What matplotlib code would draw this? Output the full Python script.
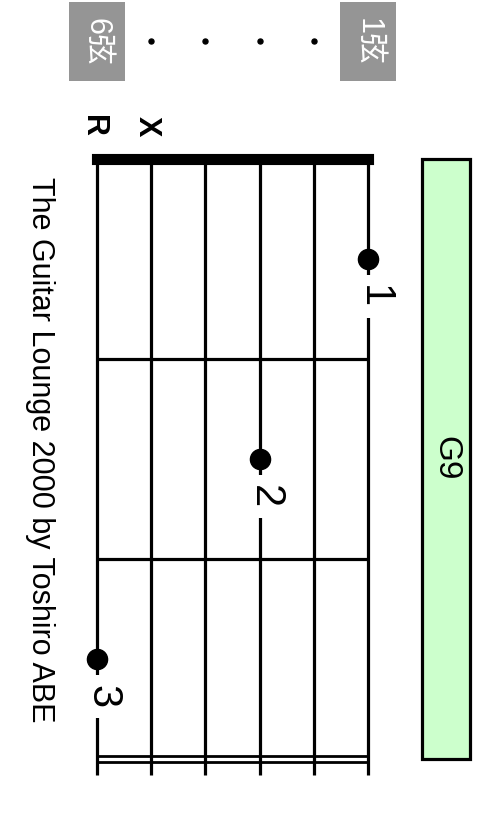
import numpy as np
import matplotlib.pyplot as plt
from matplotlib.patches import Rectangle

plt.rcParams['font.family'] = ['Liberation Sans', 'Noto Sans CJK JP', 'DejaVu Sans']

# chord data
chord_name = "G9"
strings = [6, 5, 4, 3, 2, 1]
n_frets = 3
finger_strings = [1, 3, 6]
finger_frets = [1, 2, 3]
finger_numbers = ["1", "2", "3"]
mark_strings = [6, 5]
mark_labels = ["R", "X"]
edge_strings = [6, 1]
edge_labels = ["6弦", "1弦"]
credit = "The Guitar Lounge 2000 by Toshiro ABE"

fig = plt.figure(figsize=(4.9, 8.4), dpi=100)
ax = fig.add_axes([0, 0, 1, 1])
# diagram is turned on its side: string 6 on the left, nut at the top
ax.set_xlim(7.79, -1.251)
ax.set_ylim(3.4075, -0.7925)
ax.axis("off")

lw = 2.3
for s in strings:
    ax.plot([s, s], [0, 3.08], color="black", lw=lw, solid_capstyle="butt")
ax.plot([6, 1], [0, 0], color="black", lw=8, solid_capstyle="projecting")
for f in range(1, n_frets):
    ax.plot([6, 1], [f, f], color="black", lw=lw, solid_capstyle="butt")
# double line at the bottom
for d in (-0.015, 0.015):
    ax.plot([6, 1], [n_frets + d, n_frets + d], color="black", lw=2.0, solid_capstyle="butt")

# finger dots and numbers
ax.plot(finger_strings, np.array(finger_frets) - 0.5, "o", color="black", ms=14.5, zorder=4)
for s, f, n in zip(finger_strings, finger_frets, finger_numbers):
    ax.text(s - 0.1, f - 0.31, n, rotation=-90, ha="center", va="center", fontsize=30,
            bbox=dict(facecolor="white", edgecolor="none", boxstyle="square,pad=0.23"), zorder=3)

# R / X above the nut
for s, t in zip(mark_strings, mark_labels):
    ax.text(s + 0.08, -0.1625, t, rotation=-90, ha="center", va="center", fontsize=22,
            fontweight="bold")

# string names on top
ax.plot([5, 4, 3, 2], [-0.5875] * 4, "o", color="black", ms=3.6)
for s, t in zip(edge_strings, edge_labels):
    ax.add_patch(Rectangle((s - 0.515, -0.7825), 1.03, 0.395, facecolor="#959595", edgecolor="none"))
    ax.text(s, -0.585, t, rotation=-90, ha="center", va="center", fontsize=22, color="white")

# chord name box
ax.add_patch(Rectangle((-0.882, 0), 0.8765, n_frets, facecolor="#ccffcc", edgecolor="black", lw=lw))
ax.text(-0.44, 1.5, chord_name, rotation=-90, ha="center", va="center", fontsize=24)

ax.text(7.06, 1.4575, credit, rotation=-90, ha="center", va="center", fontsize=22)

fig.savefig("out.png", dpi=100)
